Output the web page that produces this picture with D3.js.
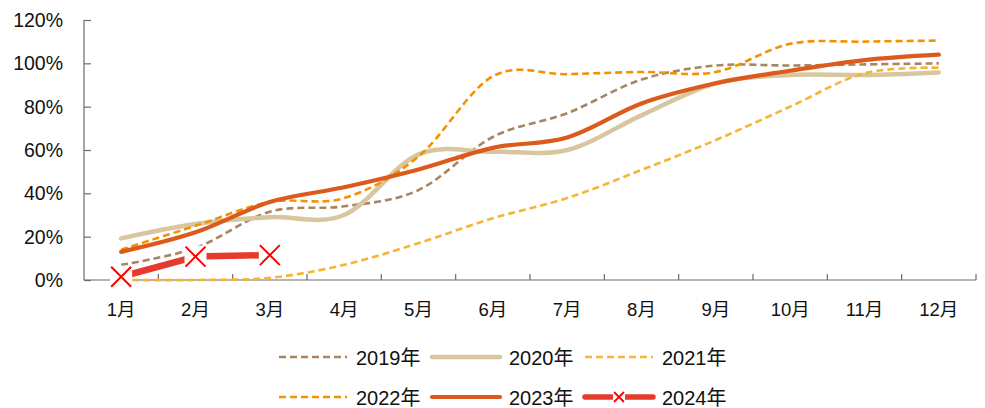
<!DOCTYPE html>
<html>
<head>
<meta charset="utf-8">
<script src="https://cdn.jsdelivr.net/npm/d3@7/dist/d3.min.js"></script>
<style>
  html, body { margin: 0; padding: 0; background: #fff; }
  svg { display: block; font-family: "Liberation Sans", Arial, "Noto Sans CJK SC", sans-serif; }
</style>
</head>
<body>
<svg id="chart" width="985" height="408"></svg>
<script>
// Months on the category axis
const months = ["1月","2月","3月","4月","5月","6月","7月","8月","9月","10月","11月","12月"];
// Percent-axis tick values
const yTicks = [0, 20, 40, 60, 80, 100, 120];

// Cumulative progress by month, in percent
const s2019 = [7, 14.8, 31.5, 34, 41.5, 66, 77, 92.5, 99, 99, 99.5, 100];
const s2020 = [19.2, 25.8, 29, 30, 58, 59.2, 60, 76, 90.8, 94.6, 94.6, 95.8];
const s2021 = [0, 0, 1, 7, 17, 28.5, 37.8, 50.8, 64.6, 80, 95.4, 98];
const s2022 = [14, 25, 36, 37.8, 57, 94, 95, 96, 96, 109, 110, 110.5];
const s2023 = [13, 22, 36, 42.8, 51, 61, 65.8, 81.5, 90.8, 96.6, 101.5, 104];
const s2024 = [1.5, 10.8, 11.5];

const seriesNames = ["2019年","2020年","2021年","2022年","2023年","2024年"];

const svg = d3.select("#chart");

const x = d3.scaleBand().domain(months).range([84, 976]).paddingInner(0).paddingOuter(0);
const y = d3.scaleLinear().domain([0, 120]).range([280, 20]);
const cx = m => x(m) + x.bandwidth() / 2;

const axisColor = "#6b6b6b";

// Value axis
const yAxis = svg.append("g").attr("transform", "translate(84,0)")
  .call(d3.axisRight(y).tickValues(yTicks).tickSize(7).tickFormat(""));
yAxis.selectAll("path, line").attr("stroke", axisColor).attr("stroke-width", 1.2);
yAxis.select(".domain").attr("d", `M0,${y(120)}V${y(0)}`);

svg.append("g").selectAll("text").data(yTicks).join("text")
  .attr("x", 63).attr("y", d => y(d) + 7)
  .attr("text-anchor", "end")
  .attr("font-size", 19.5).attr("fill", "#111")
  .text(d => d + "%");

// Category axis: ticks sit on the band boundaries, pointing up
const xAxisG = svg.append("g");
xAxisG.append("line").attr("x1", 84).attr("x2", 976).attr("y1", y(0)).attr("y2", y(0))
  .attr("stroke", axisColor).attr("stroke-width", 1.2);
const bounds = months.map(m => x(m)).concat([x(months[months.length - 1]) + x.bandwidth()]);
xAxisG.selectAll("line.tk").data(bounds.slice(1)).join("line").attr("class", "tk")
  .attr("x1", d => d).attr("x2", d => d).attr("y1", y(0)).attr("y2", y(0) - 6)
  .attr("stroke", axisColor).attr("stroke-width", 1.2);
xAxisG.selectAll("text").data(months).join("text")
  .attr("x", d => cx(d)).attr("y", 316)
  .attr("text-anchor", "middle")
  .attr("font-size", 18.5).attr("fill", "#111")
  .text(d => d);

const smooth = d3.line().x((d, i) => cx(months[i])).y(d => y(d)).curve(d3.curveCatmullRom.alpha(0));
const straight = d3.line().x((d, i) => cx(months[i])).y(d => y(d));

const styles = [
  { data: s2019, color: "#A8855F", width: 2.6, dash: "7,4" },
  { data: s2020, color: "#D8C69E", width: 4.5, dash: null },
  { data: s2021, color: "#F6B535", width: 2.6, dash: "7,4" },
  { data: s2022, color: "#F39200", width: 2.6, dash: "7,4" },
  { data: s2023, color: "#DC5A1C", width: 4.2, dash: null },
];

const plot = svg.append("g");
styles.forEach(s => {
  plot.append("path").attr("d", smooth(s.data))
    .attr("fill", "none").attr("stroke", s.color).attr("stroke-width", s.width)
    .attr("stroke-dasharray", s.dash).attr("stroke-linecap", s.dash ? "butt" : "round");
});

// 2024: straight segments with cross markers on a white backing
const c2024 = "#E63B2C";
plot.append("path").attr("d", straight(s2024))
  .attr("fill", "none").attr("stroke", c2024).attr("stroke-width", 6.5);
const mk = plot.append("g").selectAll("g").data(s2024).join("g")
  .attr("transform", (d, i) => `translate(${cx(months[i])},${y(d)})`);
mk.append("rect").attr("x", -11).attr("y", -11).attr("width", 22).attr("height", 22).attr("fill", "#fff");
mk.append("path").attr("d", "M-10,-10L10,10M-10,10L10,-10")
  .attr("stroke", "#FF0000").attr("stroke-width", 2).attr("fill", "none");

// Legend, two rows of three
const legend = svg.append("g");
const legX = [279, 432, 585];
const legY = [357, 397];
const legStyles = styles.concat([{ color: c2024, width: 5.5, dash: null, marker: true }]);
legStyles.forEach((s, i) => {
  const lx = legX[i % 3], ly = legY[Math.floor(i / 3)];
  const g = legend.append("g");
  g.append("line").attr("x1", lx).attr("x2", lx + 68).attr("y1", ly).attr("y2", ly)
    .attr("stroke", s.color).attr("stroke-width", s.dash ? 2.6 : s.width)
    .attr("stroke-dasharray", s.dash).attr("stroke-linecap", s.dash ? "butt" : "round");
  if (s.marker) {
    const mx = lx + 34;
    g.append("rect").attr("x", mx - 6).attr("y", ly - 6).attr("width", 12).attr("height", 12).attr("fill", "#fff");
    g.append("path").attr("d", `M${mx - 5},${ly - 5}L${mx + 5},${ly + 5}M${mx - 5},${ly + 5}L${mx + 5},${ly - 5}`)
      .attr("stroke", "#FF0000").attr("stroke-width", 1.8);
  }
  g.append("text").attr("x", lx + 77).attr("y", ly + 7.5)
    .attr("font-size", 20).attr("fill", "#111").text(seriesNames[i]);
});
</script>
</body>
</html>
